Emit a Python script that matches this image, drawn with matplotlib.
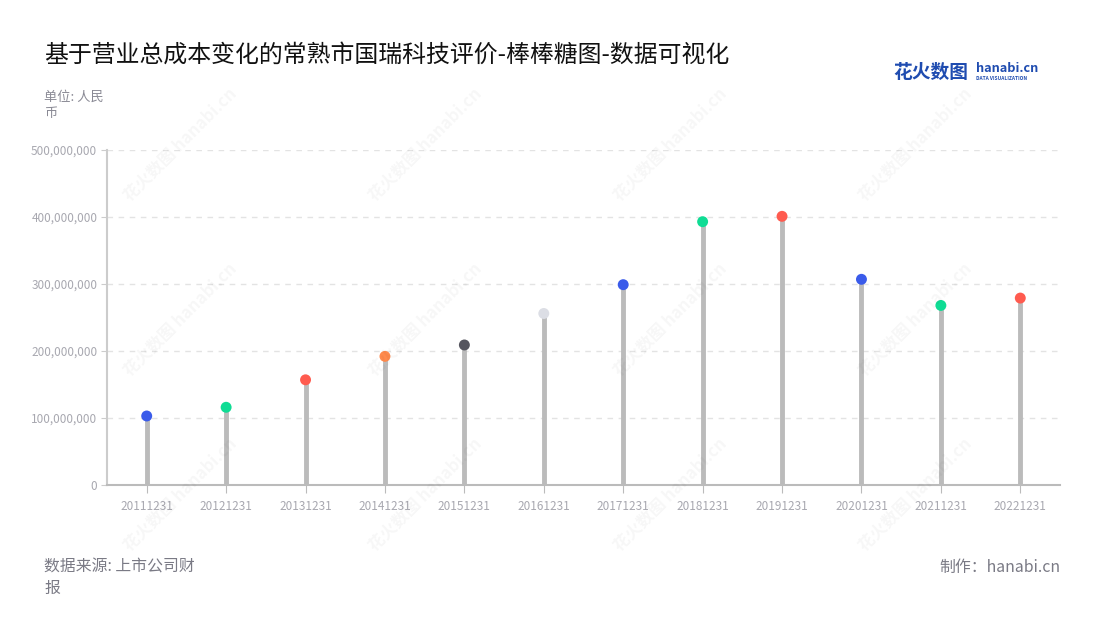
import numpy as np
import matplotlib.pyplot as plt
from matplotlib.ticker import FuncFormatter

plt.rcParams['font.family'] = ['Noto Sans CJK SC', 'DejaVu Sans']

# 报告期与营业总成本(元)
dates = ['20111231', '20121231', '20131231', '20141231', '20151231', '20161231',
         '20171231', '20181231', '20191231', '20201231', '20211231', '20221231']
cost = [103e6, 116e6, 157e6, 192e6, 209e6, 256e6,
        299e6, 393e6, 401e6, 307e6, 268e6, 279e6]
dot_colors = ['#3a5bea', '#0fdc94', '#ff5b4f', '#ff8a4c', '#55555f', '#dcdee5',
              '#3a5bea', '#0fdc94', '#ff5b4f', '#3a5bea', '#0fdc94', '#ff5b4f']
yticks = [0, 100e6, 200e6, 300e6, 400e6, 500e6]

fig = plt.figure(figsize=(11, 6.2), dpi=100)
ax = fig.add_axes([107/1100, 1-485/620, 953/1100, 335/620])

x = np.arange(len(dates))
ax.vlines(x, 0, cost, color='#bbbbbb', linewidth=3.5, zorder=2)
ax.scatter(x, cost, s=62, c=dot_colors, zorder=3, linewidths=0)

ax.set_xlim(-0.5, len(dates) - 0.5)
ax.set_ylim(0, 500e6)
ax.set_xticks(x)
ax.set_xticklabels(dates)
ax.set_yticks(yticks)
ax.yaxis.set_major_formatter(FuncFormatter(lambda v, p: '{:,.0f}'.format(v)))
ax.grid(axis='y', color='#e3e3e3', linestyle=(0, (4, 4)), linewidth=1)
ax.set_axisbelow(True)

for s in ['top', 'right']:
    ax.spines[s].set_visible(False)
ax.spines['left'].set_color('#cccccc')
ax.spines['bottom'].set_color('#bbbbbb')
ax.spines['left'].set_linewidth(1.5)
ax.spines['bottom'].set_linewidth(1.5)
ax.tick_params(axis='y', colors='#cccccc', labelcolor='#a8a8b0', labelsize=8.5, length=4, pad=3)
ax.tick_params(axis='x', colors='#bbbbbb', labelcolor='#a8a8b0', labelsize=8.5, length=6, pad=5)

# 水印
for wx in [180, 425, 670, 915]:
    for wy in [145, 320, 495]:
        fig.text(wx/1100, 1-wy/620, '花火数图 hanabi.cn', fontsize=12, fontweight='bold',
                 color='#000000', alpha=0.035, rotation=45, ha='center', va='center')

fig.text(44/1100, 1-55/620, '基于营业总成本变化的常熟市国瑞科技评价-棒棒糖图-数据可视化',
         fontsize=17.2, color='#111111', va='center')
fig.text(44/1100, 1-97/620, '单位: 人民', fontsize=9.5, color='#8a8a95', va='center')
fig.text(44/1100, 1-113/620, '币', fontsize=9.5, color='#8a8a95', va='center')
fig.text(44/1100, 1-567/620, '数据来源: 上市公司财', fontsize=11.4, color='#7a7a85', va='center')
fig.text(44/1100, 1-588/620, '报', fontsize=11.4, color='#7a7a85', va='center')
fig.text(1060/1100, 1-567/620, '制作：hanabi.cn', fontsize=11.4, color='#7a7a85',
         va='center', ha='right')

# logo
fig.text(893/1100, 1-72/620, '花火数图', fontsize=13.5, fontweight='bold', color='#1f4cb0', va='center')
fig.text(976/1100, 1-69/620, 'hanabi.cn', fontsize=9.2, fontweight='bold', color='#1f4cb0', va='center')
fig.text(976/1100, 1-79/620, 'DATA VISUALIZATION', fontsize=3.5, fontweight='bold', color='#1f4cb0', va='center')

fig.savefig('out.png', dpi=100)
